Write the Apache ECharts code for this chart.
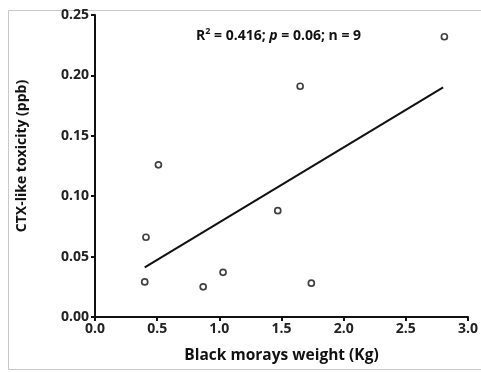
<!DOCTYPE html>
<head>
    <meta charset="utf-8">
    <title>CTX-like toxicity vs weight</title>
    <style>
        html, body { margin: 0; padding: 0; background: #fff; }
        #main { width: 481px; height: 372px; }
    </style>
</head>
<body>
    <div id="main"></div>
    <script src="https://cdn.jsdelivr.net/npm/echarts@6/dist/echarts.min.js"></script>
    <script>
        var weightKg = [0.40, 0.41, 0.51, 0.87, 1.03, 1.47, 1.65, 1.74, 2.81];
        var toxicity = [0.029, 0.066, 0.126, 0.025, 0.037, 0.088, 0.191, 0.028, 0.232];
        var fitX = [0.40, 2.80];
        var fitY = [0.041, 0.190];
        var xTicks = [0, 0.5, 1, 1.5, 2, 2.5, 3];
        var yTicks = [0, 0.05, 0.1, 0.15, 0.2, 0.25];

        var points = weightKg.map(function (w, i) { return [w, toxicity[i]]; });
        var fitLine = fitX.map(function (x, i) { return [x, fitY[i]]; });

        var font = '"Open Sans", "Liberation Sans", sans-serif';
        var axisStyle = { lineStyle: { color: '#111', width: 2 } };

        var chart = echarts.init(document.getElementById('main'));
        chart.setOption({
            backgroundColor: '#fff',
            animation: false,
            grid: { left: 95, right: 9, top: 15, bottom: 55 },
            graphic: [
                {
                    type: 'rect',
                    shape: { x: 8.5, y: 10.5, width: 490, height: 359 },
                    style: { fill: 'none', stroke: '#c8c8c8', lineWidth: 1 },
                    silent: true, z: -1
                },
                {
                    type: 'text',
                    left: 196, top: 27,
                    style: {
                        text: '{n|R}{s|2}{n| = 0.416; }{i|p}{n| = 0.06; n = 9}',
                        rich: {
                            n: { fontFamily: font, fontWeight: 'bold', fontSize: 14, fill: '#111' },
                            i: { fontFamily: font, fontWeight: 'bold', fontStyle: 'italic', fontSize: 14, fill: '#111' },
                            s: { fontFamily: font, fontWeight: 'bold', fontSize: 9, fill: '#111', verticalAlign: 'top', padding: [0, 0, 9, 0] }
                        }
                    }
                }
            ],
            xAxis: {
                type: 'value',
                min: 0, max: 3, interval: 0.5,
                name: 'Black morays weight (Kg)',
                nameLocation: 'middle',
                nameGap: 31,
                nameTextStyle: { fontFamily: font, fontWeight: 'bold', fontSize: 15.5, color: '#111' },
                axisLine: axisStyle,
                axisTick: { show: true, length: 4, lineStyle: { color: '#111', width: 2 } },
                axisLabel: {
                    fontFamily: font, fontWeight: 'bold', fontSize: 14, color: '#222', margin: 5,
                    formatter: function (v) { return xTicks.indexOf(v) >= 0 ? v.toFixed(1) : ''; }
                },
                splitLine: { show: false }
            },
            yAxis: {
                type: 'value',
                min: 0, max: 0.25, interval: 0.05,
                name: 'CTX-like toxicity (ppb)',
                nameLocation: 'middle',
                nameGap: 66,
                nameTextStyle: { fontFamily: font, fontWeight: 'bold', fontSize: 14, color: '#111', padding: [0, 0, 0, 20] },
                axisLine: { show: true, lineStyle: { color: '#111', width: 2 } },
                axisTick: { show: true, length: 4, lineStyle: { color: '#111', width: 2 } },
                axisLabel: {
                    fontFamily: font, fontWeight: 'bold', fontSize: 14, color: '#222', margin: 6,
                    formatter: function (v) { return yTicks.some(function (t) { return Math.abs(t - v) < 1e-9; }) ? v.toFixed(2) : ''; }
                },
                splitLine: { show: false }
            },
            series: [
                {
                    type: 'line',
                    data: fitLine,
                    showSymbol: false,
                    lineStyle: { color: '#111', width: 2 },
                    silent: true
                },
                {
                    type: 'scatter',
                    data: points,
                    symbol: 'circle',
                    symbolSize: 6,
                    itemStyle: { color: '#fff', borderColor: '#111', borderWidth: 1.7 },
                    z: 3
                }
            ]
        });
    </script>
</body>
